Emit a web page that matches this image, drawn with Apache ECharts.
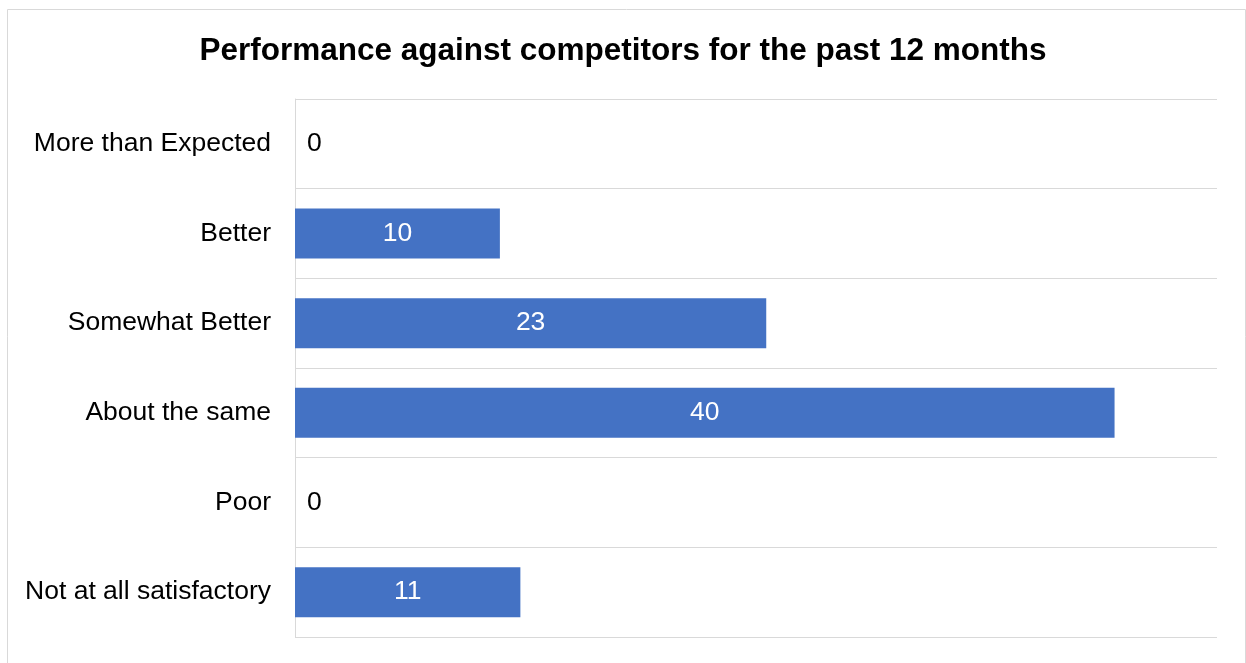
<!DOCTYPE html>
<html>
<head>
<meta charset="utf-8">
<script src="https://cdn.jsdelivr.net/npm/echarts@6/dist/echarts.min.js"></script>
<style>
  html, body { margin: 0; padding: 0; background: #fff; }
  #chart { width: 1246px; height: 663px; }
</style>
</head>
<body>
<div id="chart"></div>
<script>
var categories = ['More than Expected', 'Better', 'Somewhat Better', 'About the same', 'Poor', 'Not at all satisfactory']
var values = [0, 10, 23, 40, 0, 11]

var myChart = echarts.init(document.getElementById('chart'))

var seriesData = values.map(function (v) {
  if (v === 0) {
    // empty bar: label sits outside in black
    return { value: v, label: { position: 'right', color: '#000', distance: 12 } }
  }
  return v
})

var option = {
  animation: false,
  graphic: [
    {
      type: 'rect',
      shape: { x: 7.5, y: 9.5, width: 1238, height: 700 },
      style: { fill: 'none', stroke: '#d9d9d9', lineWidth: 1 }
    }
  ],
  title: {
    text: 'Performance against competitors for the past 12 months',
    left: 'center',
    top: 30,
    textStyle: {
      fontFamily: 'Liberation Sans, Arial',
      fontSize: 31.5,
      fontWeight: 'bold',
      color: '#000'
    }
  },
  grid: {
    left: 295,
    right: 29,
    top: 99,
    bottom: 26
  },
  xAxis: {
    type: 'value',
    min: 0,
    max: 45,
    axisLabel: { show: false },
    axisLine: { show: false },
    axisTick: { show: false },
    splitLine: { show: false }
  },
  yAxis: {
    type: 'category',
    inverse: true,
    data: categories,
    axisLine: { show: true, lineStyle: { color: '#d9d9d9', width: 1 } },
    axisTick: { show: false },
    axisLabel: {
      margin: 24,
      color: '#000',
      fontFamily: 'Liberation Sans, Arial',
      fontSize: 26.5,
      padding: [4, 0, 0, 0]
    },
    splitLine: { show: true, lineStyle: { color: '#d9d9d9', width: 1 } }
  },
  series: [
    {
      type: 'bar',
      data: seriesData,
      barWidth: 50,
      itemStyle: { color: '#4472C4' },
      label: {
        show: true,
        position: 'inside',
        color: '#fff',
        fontFamily: 'Liberation Sans, Arial',
        fontSize: 26.5,
        padding: [4, 0, 0, 0]
      }
    }
  ]
}

myChart.setOption(option)
window.addEventListener('resize', function () {
  myChart.resize()
})
</script>
</body>
</html>
